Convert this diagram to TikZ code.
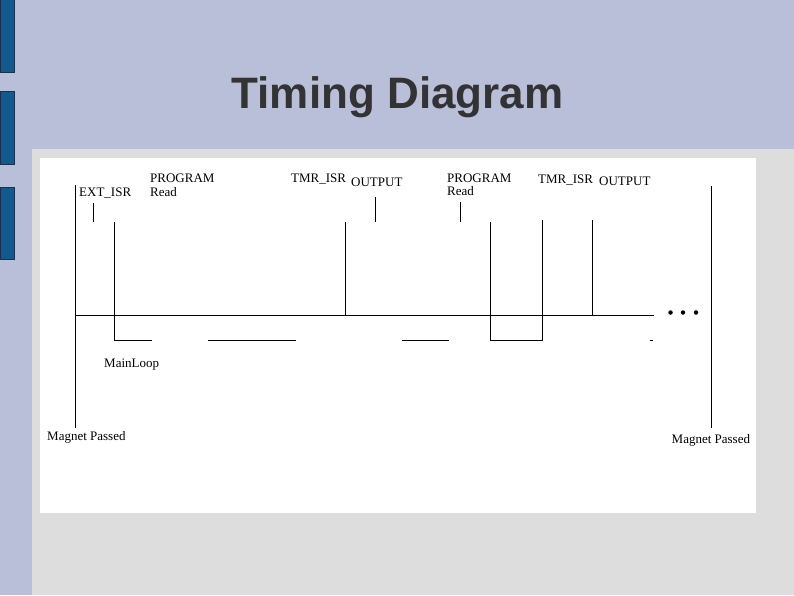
\documentclass[tikz,border=0pt]{standalone}
\usepackage{fontspec}
\setmainfont{Liberation Serif}
\newfontfamily\titlefam{Liberation Sans}
\definecolor{lav}{HTML}{B9BED9}
\definecolor{panel}{HTML}{DDDDDD}
\definecolor{barblue}{HTML}{125A8E}
\definecolor{baredge}{HTML}{1B2F4F}
\definecolor{titlegray}{HTML}{333333}
\tikzset{
  sig/.style={line width=1pt, black, line cap=rect},
  lbl/.style={inner sep=0pt, anchor=base west, font=\fontsize{13}{15}\selectfont},
  bar/.style={fill=barblue, draw=baredge, line width=1pt},
  dotmark/.style={circle, fill=black, inner sep=0pt, minimum size=4.5pt}
}
\begin{document}
\begin{tikzpicture}[x=1pt,y=-1pt]
\useasboundingbox (0,0) rectangle (794,595);
% backgrounds
\fill[lav] (0,0) rectangle (794,595);
\fill[panel] (32,149) rectangle (794,595);
\fill[white] (40,158) rectangle (756,513);
% side bars
\draw[bar] (0.5,-5) rectangle (14,72);
\draw[bar] (0.5,91) rectangle (14,164);
\draw[bar] (0.5,187) rectangle (14,259);
% title
\node[font=\titlefam\bfseries\fontsize{44}{50}\selectfont, text=titlegray, anchor=base, inner sep=0pt] (title) at (397.5,108) {Timing Diagram};

% coordinates
\coordinate (L1) at (75.5,185);
\coordinate (L2) at (75.5,427);
\coordinate (B1) at (75.5,315);
\coordinate (B2) at (653,315);
\coordinate (E1) at (93.5,203);
\coordinate (E2) at (93.5,221);
\coordinate (M1) at (114.5,222);
\coordinate (M2) at (114.5,340);
\coordinate (M3) at (151.5,340);
\coordinate (S1) at (208.5,340);
\coordinate (S2) at (295,340);
\coordinate (T1) at (345.5,222);
\coordinate (T2) at (345.5,315);
\coordinate (O1) at (375,197);
\coordinate (O2) at (375,221);
\coordinate (S3) at (402,340);
\coordinate (S4) at (448.5,340);
\coordinate (R1) at (460.5,202);
\coordinate (R2) at (460.5,221);
\coordinate (P1) at (490.5,222);
\coordinate (P2) at (490.5,340);
\coordinate (P3) at (542.5,340);
\coordinate (P4) at (542.5,220);
\coordinate (U1) at (592.5,220);
\coordinate (U2) at (592.5,315);
\coordinate (D1) at (649.5,340);
\coordinate (D2) at (653,340);
\coordinate (N1) at (711.5,186);
\coordinate (N2) at (711.5,427);

\draw[sig] (L1) -- (L2);
\draw[sig] (B1) -- (B2);
\draw[sig] (E1) -- (E2);
\draw[sig] (M1) -- (M2) -- (M3);
\draw[sig] (S1) -- (S2);
\draw[sig] (T1) -- (T2);
\draw[sig] (O1) -- (O2);
\draw[sig] (S3) -- (S4);
\draw[sig] (R1) -- (R2);
\draw[sig] (P1) -- (P2) -- (P3) -- (P4);
\draw[sig] (U1) -- (U2);
\draw[line width=1pt] (D1) -- (D2);
\draw[sig] (N1) -- (N2);

% dots
\node[dotmark] (dot1) at (670.5,312.5) {};
\node[dotmark] (dot2) at (683,312.5) {};
\node[dotmark] (dot3) at (696,312.5) {};

% labels
\node[lbl] (ext) at (79,196) {EXT\_ISR};
\node[lbl] (prog1) at (150,182) {PROGRAM};
\node[lbl] (read1) at (150,196) {Read};
\node[lbl] (tmr1) at (291,182) {TMR\_ISR};
\node[lbl] (out1) at (351,186) {OUTPUT};
\node[lbl] (prog2) at (447,182) {PROGRAM};
\node[lbl] (read2) at (447,195.5) {Read};
\node[lbl] (tmr2) at (538,183) {TMR\_ISR};
\node[lbl] (out2) at (599,185.5) {OUTPUT};
\node[lbl] (main) at (104,367) {MainLoop};
\node[lbl] (mag1) at (47,440) {Magnet Passed};
\node[lbl] (mag2) at (671.5,443.5) {Magnet Passed};
\end{tikzpicture}
\end{document}
